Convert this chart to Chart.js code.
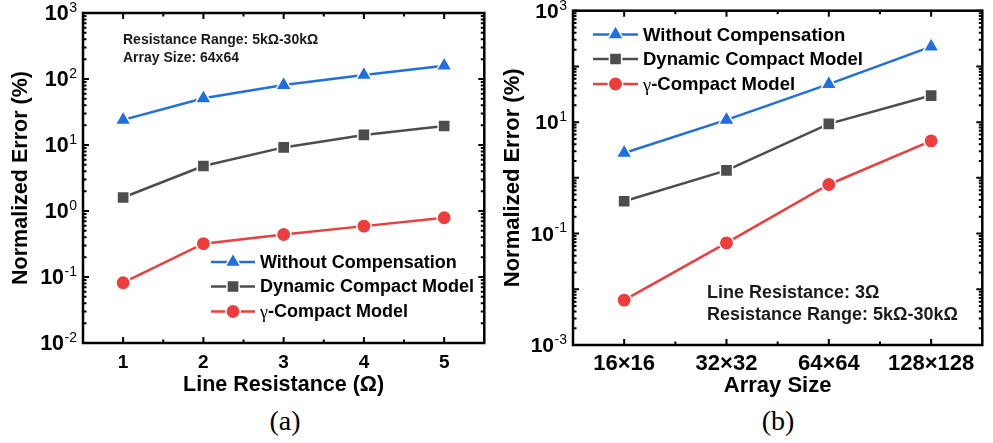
<!DOCTYPE html>
<html>
<head>
<meta charset="utf-8">
<title>Normalized error</title>
<script src="https://cdn.jsdelivr.net/npm/chart.js@4.4.1/dist/chart.umd.min.js"></script>
<style>
  html, body { margin: 0; padding: 0; background: #fff; }
  body { width: 993px; height: 443px; position: relative; overflow: hidden; }
  canvas { position: absolute; top: 0; }
  #chartA { left: 0; }
  #chartB { left: 495px; }
  .caption {
    position: absolute; top: 405px; line-height: 32px;
    font: 28px 'Liberation Serif', 'Times New Roman', serif;
    transform: translateX(-50%); color: #000;
  }
</style>
</head>
<body>
<canvas id="chartA" width="495" height="400"></canvas>
<canvas id="chartB" width="498" height="400"></canvas>
<div class="caption" style="left:285px">(a)</div>
<div class="caption" style="left:778px">(b)</div>
<script>
// ---- data ----
var seriesNames = ['Without Compensation', 'Dynamic Compact Model', 'γ-Compact Model'];

// (a) error vs line resistance, 64x64 array
var resistanceLabels = ['1', '2', '3', '4', '5'];
var withoutCompA = [24, 51, 81, 115, 159];
var dynamicA = [1.6, 4.8, 9.2, 14.2, 19.4];
var gammaA = [0.082, 0.32, 0.44, 0.59, 0.79];
var notesA = ['Resistance Range: 5kΩ-30kΩ', 'Array Size: 64x64'];

// (b) error vs array size, 3 ohm line resistance
var sizeLabels = ['16×16', '32×32', '64×64', '128×128'];
var withoutCompB = [2.8, 11, 48, 226];
var dynamicB = [0.38, 1.36, 9.3, 30];
var gammaB = [0.0064, 0.068, 0.76, 4.6];
var notesB = ['Line Resistance: 3Ω', 'Resistance Range: 5kΩ-30kΩ'];

var FONT = "'Liberation Sans', Arial, Helvetica, sans-serif";
var SERIF = "'Liberation Serif', 'Times New Roman', serif";
var BLUE = '#1f6fe0', GRAY = '#4d4d4d', RED = '#ee3d3d';

// same geometry as Chart.js point styles
function drawMarker(ctx, style, x, y, r) {
  ctx.beginPath();
  if (style === 'triangle') {
    var rad = 0;
    ctx.moveTo(x + Math.sin(rad) * r, y - Math.cos(rad) * r);
    rad += 2 * Math.PI / 3;
    ctx.lineTo(x + Math.sin(rad) * r, y - Math.cos(rad) * r);
    rad += 2 * Math.PI / 3;
    ctx.lineTo(x + Math.sin(rad) * r, y - Math.cos(rad) * r);
    ctx.closePath();
  } else if (style === 'rect') {
    var s = r / Math.SQRT2;
    ctx.rect(x - s, y - s, 2 * s, 2 * s);
  } else {
    ctx.arc(x, y, r, 0, Math.PI * 2);
  }
  ctx.fill();
  ctx.stroke();
}

// boxed frame with inward ticks, log decade labels as 10^n
var frameTicks = {
  id: 'frameTicks',
  afterDraw: function (chart, args, o) {
    var ctx = chart.ctx, a = chart.chartArea, xs = chart.scales.x, ys = chart.scales.y;
    ctx.save();
    ctx.strokeStyle = '#000';
    ctx.lineWidth = 2;
    function vtick(px, len) {
      ctx.beginPath();
      ctx.moveTo(px, a.bottom); ctx.lineTo(px, a.bottom - len);
      ctx.moveTo(px, a.top); ctx.lineTo(px, a.top + len);
      ctx.stroke();
    }
    function htick(py, len) {
      ctx.beginPath();
      ctx.moveTo(a.left, py); ctx.lineTo(a.left + len, py);
      ctx.moveTo(a.right, py); ctx.lineTo(a.right - len, py);
      ctx.stroke();
    }
    var n = chart.data.labels.length;
    for (var i = 0; i < n; i++) {
      vtick(xs.getPixelForValue(i), 6);
      if (i < n - 1) vtick((xs.getPixelForValue(i) + xs.getPixelForValue(i + 1)) / 2, 3.5);
    }
    for (var e = o.minExp; e <= o.maxExp; e++) {
      htick(ys.getPixelForValue(Math.pow(10, e)), 6);
      if (e === o.maxExp) break;
      for (var m = 2; m <= 9; m++) htick(ys.getPixelForValue(m * Math.pow(10, e)), 3.5);
    }
    ctx.lineWidth = 2.5;
    ctx.strokeRect(a.left, a.top, a.right - a.left, a.bottom - a.top);

    // exponent is right-aligned, "10" sits just before it
    ctx.fillStyle = '#000';
    ctx.textBaseline = 'middle';
    o.labelExps.forEach(function (p) {
      var py = ys.getPixelForValue(Math.pow(10, p));
      var sup = String(p);
      ctx.font = o.supSize + 'px ' + FONT;
      var sw = ctx.measureText(sup).width;
      ctx.textAlign = 'right';
      ctx.fillText(sup, o.labelRight, py - 5);
      ctx.font = 'bold ' + o.tenSize + 'px ' + FONT;
      ctx.fillText('10', o.labelRight - sw - 0.5, py + 1.5);
    });
    ctx.restore();
  }
};

// legend and notes drawn inside the plot box
var inlineLegend = {
  id: 'inlineLegend',
  afterDraw: function (chart, args, o) {
    var ctx = chart.ctx;
    ctx.save();
    chart.data.datasets.forEach(function (ds, i) {
      var y = o.rows[i];
      ctx.strokeStyle = ds.borderColor;
      ctx.lineWidth = ds.borderWidth;
      ctx.beginPath();
      ctx.moveTo(o.x0, y); ctx.lineTo(o.x1, y);
      ctx.stroke();
      ctx.fillStyle = ds.pointBackgroundColor;
      ctx.strokeStyle = ds.pointBorderColor;
      ctx.lineWidth = ds.pointBorderWidth;
      drawMarker(ctx, ds.pointStyle, (o.x0 + o.x1) / 2, y, ds.pointRadius);
      ctx.fillStyle = '#000';
      ctx.textAlign = 'left';
      ctx.textBaseline = 'middle';
      var text = ds.label, x = o.textX;
      if (text.charAt(0) === 'γ') {
        // greek letter set upright in the serif face
        ctx.font = o.size + 'px ' + SERIF;
        ctx.fillText('γ', x, y + 2);
        x += ctx.measureText('γ').width;
        text = text.slice(1);
      }
      ctx.font = 'bold ' + o.size + 'px ' + FONT;
      ctx.fillText(text, x, y + 1);
    });
    ctx.fillStyle = '#1a1a1a';
    ctx.font = 'bold ' + o.noteSize + 'px ' + FONT;
    o.notes.forEach(function (t, i) {
      ctx.fillText(t, o.noteX, o.noteRows[i]);
    });
    ctx.restore();
  }
};

function series(values, i) {
  var styles = ['triangle', 'rect', 'circle'];
  var radii = [9.2, 8.6, 7.2];
  var colors = [BLUE, GRAY, RED];
  return {
    label: seriesNames[i],
    data: values,
    borderColor: colors[i],
    borderWidth: 2.5,
    pointStyle: styles[i],
    pointRadius: radii[i],
    pointHoverRadius: radii[i],
    pointBackgroundColor: colors[i],
    pointBorderColor: '#fff',
    pointBorderWidth: 1.5,
    tension: 0
  };
}

function makeChart(id, cfg) {
  return new Chart(document.getElementById(id), {
    type: 'line',
    data: {
      labels: cfg.labels,
      datasets: [series(cfg.v[0], 0), series(cfg.v[1], 1), series(cfg.v[2], 2)]
    },
    plugins: [frameTicks, inlineLegend],
    options: {
      responsive: false,
      animation: false,
      layout: { padding: cfg.pad },
      plugins: {
        legend: { display: false },
        tooltip: { enabled: false },
        frameTicks: cfg.frame,
        inlineLegend: cfg.legend
      },
      scales: {
        x: {
          type: 'category',
          offset: true,
          grid: { display: false, drawTicks: false },
          border: { display: false },
          ticks: {
            color: '#000', padding: cfg.xTickPad, maxRotation: 0, autoSkip: false,
            font: { family: FONT, size: cfg.xTickSize, weight: 'bold' }
          },
          title: {
            display: true, text: cfg.xTitle, color: '#000',
            padding: { top: 0, bottom: cfg.xTitlePad },
            font: { family: FONT, size: cfg.titleSize, weight: 'bold' }
          },
          afterFit: function (s) { s.height = cfg.xHeight; }
        },
        y: {
          type: 'logarithmic',
          min: cfg.yMin,
          max: cfg.yMax,
          grid: { display: false, drawTicks: false },
          border: { display: false },
          ticks: { display: false },
          title: {
            display: true, text: 'Normalized Error (%)', color: '#000',
            padding: { top: cfg.yTitlePad, bottom: 0 },
            font: { family: FONT, size: cfg.titleSize, weight: 'bold' }
          },
          afterFit: function (s) { s.width = cfg.yWidth; }
        }
      }
    }
  });
}

makeChart('chartA', {
  labels: resistanceLabels,
  v: [withoutCompA, dynamicA, gammaA],
  pad: { top: 13, right: 2, left: 0, bottom: 0 },
  yMin: 1e-2, yMax: 1e3,
  yWidth: 83, xHeight: 57,
  xTickSize: 19, xTickPad: 8,
  titleSize: 21.5, xTitle: 'Line Resistance (Ω)', xTitlePad: 2, yTitlePad: 8,
  frame: { minExp: -2, maxExp: 3, labelExps: [-2, -1, 0, 1, 2, 3], tenSize: 21.5, supSize: 14, labelRight: 77 },
  legend: {
    x0: 211, x1: 255, textX: 260, rows: [262, 286.5, 311.5], size: 18,
    notes: notesA, noteX: 123, noteRows: [40, 58], noteSize: 14
  }
});

makeChart('chartB', {
  labels: sizeLabels,
  v: [withoutCompB, dynamicB, gammaB],
  pad: { top: 10, right: 3, left: 0, bottom: 0 },
  yMin: 1e-3, yMax: 1e3,
  yWidth: 78, xHeight: 55,
  xTickSize: 22, xTickPad: 6,
  titleSize: 22, xTitle: 'Array Size', xTitlePad: 0.5, yTitlePad: 5,
  frame: { minExp: -3, maxExp: 3, labelExps: [-3, -1, 1, 3], tenSize: 21, supSize: 14, labelRight: 72 },
  legend: {
    x0: 98, x1: 143, textX: 148, rows: [34.5, 59, 84], size: 18.5,
    notes: notesB, noteX: 212, noteRows: [293, 315], noteSize: 18
  }
});
</script>
</body>
</html>
